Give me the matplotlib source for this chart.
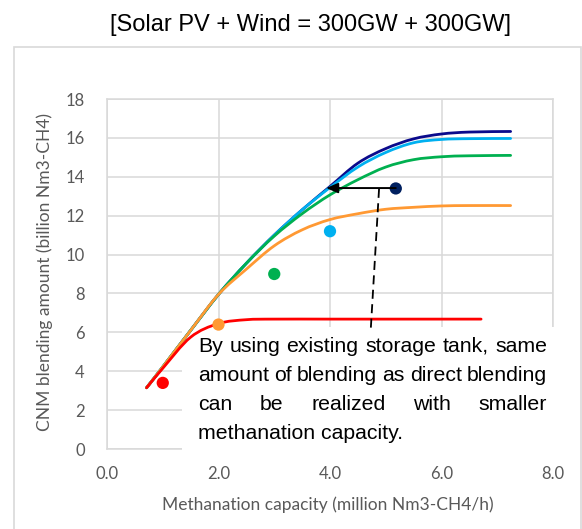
import matplotlib.pyplot as plt
from matplotlib.patches import Rectangle, PathPatch
from matplotlib.path import Path

W, H = 582, 529

# curves: CNM blending amount vs methanation capacity (storage tank cases)
cap = [0.71, 1.0, 1.5, 2.0, 2.5, 3.0, 3.5, 4.0, 4.5, 5.0, 5.5, 6.0, 6.5, 7.24]
navy_y = [3.15, 4.22, 6.1, 7.95, 9.55, 11.0, 12.3, 13.5, 14.7, 15.45, 15.95, 16.2, 16.3, 16.33]
blue_y = [3.15, 4.22, 6.1, 7.95, 9.55, 11.0, 12.3, 13.45, 14.5, 15.25, 15.75, 15.92, 15.96, 15.97]
green_y = [3.15, 4.22, 6.1, 7.95, 9.55, 10.95, 12.1, 13.07, 13.85, 14.5, 14.88, 15.03, 15.08, 15.1]
orange_y = [3.15, 4.22, 6.1, 7.95, 9.25, 10.45, 11.27, 11.8, 12.1, 12.33, 12.43, 12.5, 12.52, 12.52]
red_cap = [0.71, 1.0, 1.5, 2.0, 2.5, 3.0, 4.0, 5.0, 6.0, 6.71]
red_y = [3.15, 4.15, 5.75, 6.45, 6.65, 6.68, 6.68, 6.68, 6.68, 6.68]

# direct blending points
pt_x = [1.0, 2.0, 3.0, 4.0, 5.18]
pt_y = [3.4, 6.4, 9.0, 11.2, 13.4]

line_colors = ['#0A0A8C', '#00B0F0', '#00B050', '#FF9933', '#FF0000']
pt_colors = ['#FF0000', '#FF9933', '#00B050', '#00B0F0', '#002060']

x_ticks = [0, 2, 4, 6, 8]
y_ticks = list(range(0, 19, 2))

note_lines = [
    "By using existing storage tank, same",
    "amount of blending as direct blending",
    "can be realized with smaller",
    "methanation capacity.",
]


def px(x, y):
    return x / W, 1 - y / H


def smooth_line(ax, xs, ys, color):
    # excel-style smoothed line: bezier segments through the data points
    pts = list(zip(xs, ys))
    verts = [pts[0]]
    codes = [Path.MOVETO]
    n = len(pts)
    for i in range(n - 1):
        p0 = pts[max(i - 1, 0)]
        p1 = pts[i]
        p2 = pts[i + 1]
        p3 = pts[min(i + 2, n - 1)]
        c1 = (p1[0] + (p2[0] - p0[0]) / 6, p1[1] + (p2[1] - p0[1]) / 6)
        c2 = (p2[0] - (p3[0] - p1[0]) / 6, p2[1] - (p3[1] - p1[1]) / 6)
        verts += [c1, c2, p2]
        codes += [Path.CURVE4] * 3
    ax.add_patch(PathPatch(Path(verts, codes), fill=False, edgecolor=color,
                           lw=2.0, capstyle='round', zorder=3))


fig = plt.figure(figsize=(W / 100, H / 100), dpi=100)
ax = fig.add_axes([107 / W, 1 - 449 / H, (553 - 107) / W, (449 - 99) / H])

# outer chart border
fig.patches.append(Rectangle(px(14, 540), (581 - 14) / W, (540 - 47) / H,
                             transform=fig.transFigure, fill=False,
                             edgecolor='#d9d9d9', lw=1.2))

series = [navy_y, blue_y, green_y, orange_y]
for ys, c in zip(series, line_colors[:4]):
    smooth_line(ax, cap, ys, c)
smooth_line(ax, red_cap, red_y, line_colors[4])

ax.scatter(pt_x, pt_y, s=78, c=pt_colors, zorder=4, linewidths=0)

# arrow from direct blending point to storage curve
ax.annotate('', xy=(3.93, 13.42), xytext=(5.18, 13.42),
            arrowprops=dict(arrowstyle='-|>,head_length=0.7,head_width=0.3',
                            color='black', lw=1.4, shrinkA=0, shrinkB=0),
            zorder=5)
ax.plot([4.88, 4.73], [13.38, 6.1], color='black', lw=1.3, dashes=(5, 3), zorder=5)

ax.set_xlim(0, 8)
ax.set_ylim(0, 18)
ax.set_xticks(x_ticks)
ax.set_xticklabels([f"{v:.1f}" for v in x_ticks])
ax.set_yticks(y_ticks)
ax.grid(True, color='#d9d9d9', lw=1.1)
ax.set_axisbelow(True)
for s in ax.spines.values():
    s.set_color('#d9d9d9')
    s.set_linewidth(1.1)
ax.tick_params(length=0, colors='#595959', labelsize=12)
ax.tick_params(axis='y', pad=16)
ax.tick_params(axis='x', pad=12)
for lab in ax.get_xticklabels() + ax.get_yticklabels():
    lab.set_family('Lato')

# white note box: over the gridlines, under the curves
box_x0 = (182 - 107) / (553 - 107)
box_y0 = (449 - 451) / (449 - 99)
ax.add_patch(Rectangle((box_x0, box_y0), (556 - 182) / (553 - 107), (451 - 327) / (449 - 99),
                       transform=ax.transAxes, facecolor='white', edgecolor='none',
                       clip_on=False, zorder=2.7))

fig.text(*px(310, 25), "[Solar PV + Wind = 300GW + 300GW]", ha='center', va='center',
         fontsize=17, family='Liberation Sans', color='black')
fig.text(*px(328, 505), "Methanation capacity (million Nm3-CH4/h)", ha='center', va='center',
         fontsize=12.5, family='Lato', color='#595959')
fig.text(*px(45, 272), "CNM blending amount (billion Nm3-CH4)", ha='center', va='center',
         rotation=90, fontsize=12.5, family='Lato', color='#595959')

# justified note text
fig.canvas.draw()
rend = fig.canvas.get_renderer()
left, right = 198, 547
baselines = [352, 381, 410, 439]
fs = 15.3
for i, (line, yb) in enumerate(zip(note_lines, baselines)):
    words = line.split()
    if i == len(note_lines) - 1:
        fig.text(*px(left, yb), line, ha='left', va='baseline', fontsize=fs,
                 family='Liberation Sans', zorder=6)
        continue
    arts = [fig.text(0, 0, w, ha='left', va='baseline', fontsize=fs,
                     family='Liberation Sans', zorder=6) for w in words]
    widths = [a.get_window_extent(rend).width for a in arts]
    gap = (right - left - sum(widths)) / (len(words) - 1)
    xpos = left
    for a, wdt in zip(arts, widths):
        a.set_position(px(xpos, yb))
        xpos += wdt + gap

fig.savefig('out.png', dpi=100)
